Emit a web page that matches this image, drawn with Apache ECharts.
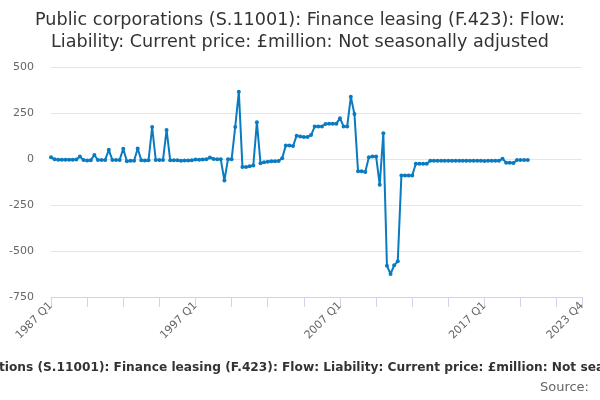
<!DOCTYPE html>
<html>
<head>
<meta charset="utf-8">
<script src="https://cdn.jsdelivr.net/npm/echarts@6/dist/echarts.min.js"></script>
<style>
  html, body { margin: 0; padding: 0; background: #fff; }
  #main { width: 600px; height: 400px; }
</style>
</head>
<body>
<div id="main"></div>
<script>
var chartTitle = 'Public corporations (S.11001): Finance leasing (F.423): Flow: Liability: Current price: £million: Not seasonally adjusted';

// quarters 1987 Q1 .. 2023 Q4
var years = [];
for (var y = 1987; y <= 2023; y++) years.push(y);
var quarters = [];
years.forEach(function (yr) {
    ['Q1', 'Q2', 'Q3', 'Q4'].forEach(function (q) { quarters.push(yr + ' ' + q); });
});

// values from 1987 Q1 to 2020 Q1
var values = [
    10, -2, -4, -4, -4, -4, -4, -3,
    14, -6, -8, -7, 22, -6, -6, -5,
    50, -6, -6, -5, 56, -12, -10, -10,
    57, -7, -8, -7, 174, -6, -5, -6,
    158, -7, -7, -7, -9, -8, -8, -7,
    -3, -4, -3, -2, 8, 0, -1, -2,
    -117, -1, -2, 174, 366, -44, -44, -40,
    -36, 200, -23, -18, -15, -12, -12, -11,
    4, 74, 74, 70, 127, 122, 120, 120,
    130, 176, 176, 177, 190, 191, 191, 192,
    222, 177, 177, 338, 245, -67, -66, -71,
    10, 14, 14, -140, 140, -580, -625, -578,
    -556, -89, -89, -89, -89, -26, -26, -26,
    -26, -9, -9, -10, -9, -9, -10, -10,
    -9, -10, -10, -9, -10, -10, -9, -10,
    -11, -10, -10, -9, -10, 2, -20, -21,
    -22, -6, -6, -6, -6
];

var labelIdx = [0, 40, 80, 120, 147];

var myChart = echarts.init(document.getElementById('main'));
myChart.setOption({
    animation: false,
    textStyle: { fontFamily: 'DejaVu Sans' },
    title: [{
        text: 'Public corporations (S.11001): Finance leasing (F.423): Flow:\nLiability: Current price: £million: Not seasonally adjusted',
        left: 'center',
        top: 4,
        textStyle: { fontSize: 17.6, fontWeight: 'normal', color: '#333', lineHeight: 22 }
    }, {
        text: 'Source:',
        right: 6,
        bottom: 1,
        textStyle: { fontSize: 13, fontWeight: 'normal', color: '#666' }
    }],
    grid: { left: 51, right: 18, top: 67, bottom: 103, containLabel: false, outerBoundsMode: 'none' },
    xAxis: {
        type: 'category',
        data: quarters,
        boundaryGap: false,
        name: chartTitle,
        nameLocation: 'middle',
        nameGap: 65,
        nameTextStyle: { fontSize: 12.2, fontWeight: 'bold', color: '#333', padding: [0, 16, 0, 0] },
        axisLine: { onZero: false, lineStyle: { color: '#ccd6eb' } },
        axisTick: {
            length: 10,
            lineStyle: { color: '#ccd6eb' },
            interval: function (i) { return i % 10 === 0 || i === 147; }
        },
        axisLabel: {
            rotate: 45,
            fontSize: 11,
            color: '#666',
            margin: 7,
            interval: function (i) { return labelIdx.indexOf(i) >= 0; }
        },
        splitLine: { show: false }
    },
    yAxis: {
        type: 'value',
        min: -750,
        max: 500,
        interval: 250,
        axisLine: { show: false },
        axisTick: { show: false },
        axisLabel: { fontSize: 11, color: '#666', margin: 17 },
        splitLine: { lineStyle: { color: '#e6e6e6' } }
    },
    series: [{
        type: 'line',
        data: values,
        symbol: 'circle',
        symbolSize: 4,
        showSymbol: true,
        showAllSymbol: true,
        itemStyle: { color: '#0b7bc1' },
        lineStyle: { width: 2, color: '#0b7bc1' }
    }]
});
</script>
</body>
</html>
